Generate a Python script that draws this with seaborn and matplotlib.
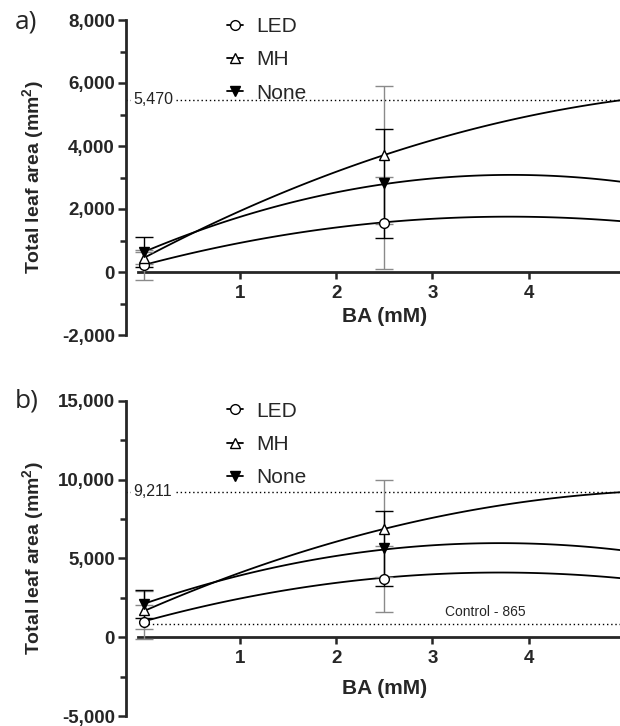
import numpy as np
import matplotlib.pyplot as plt
import seaborn as sns
from matplotlib.lines import Line2D
from matplotlib.ticker import FuncFormatter, MultipleLocator

sns.set_style("ticks")
plt.rcParams["font.family"] = ["Liberation Sans", "DejaVu Sans"]
plt.rcParams["mathtext.fontset"] = "custom"
plt.rcParams["mathtext.bf"] = "Liberation Sans:bold"
plt.rcParams["mathtext.rm"] = "Liberation Sans"

treatments = ["LED", "MH", "None"]
ba_points = [0, 2.5]
fit_x = [0, 2.5, 5]

# --------------------------------------------------
# panel a) values
# --------------------------------------------------
a_led_mean = [225, 1556]
a_led_err = [480, 1460]
a_mh_mean = [450, 3714]
a_mh_err = [200, 2191]
a_none_mean = [640, 2825]
a_none_err = [480, 1730]
# curve heights of the fitted lines at 0, 2.5 and 5 mM
a_led_fit = [222, 1577, 1603]
a_mh_fit = [444, 3714, 5470]
a_none_fit = [635, 2790, 2850]
a_max_value = 5470

# --------------------------------------------------
# panel b) values
# --------------------------------------------------
b_led_mean = [950, 3700]
b_led_err = [1080, 2075]
b_mh_mean = [1730, 6870]
b_mh_err = [1200, 3080]
b_none_mean = [2113, 5647]
b_none_err = [900, 2380]
b_led_fit = [1000, 3774, 3717]
b_mh_fit = [1650, 6870, 9211]
b_none_fit = [2113, 5560, 5490]
b_max_value = 9211
b_control_value = 865

markers = {"LED": "o", "MH": "^", "None": "v"}
faces = {"LED": "white", "MH": "white", "None": "black"}
err_colors = {"LED": "#8a8a8a", "MH": "#8a8a8a", "None": "black"}


def comma_fmt(v, pos):
    return f"{v:,.0f}"


def draw_panel(ax, means, errs, fits, ylim, major, minor, max_value, xlabel_y, legend_y):
    for name in treatments:
        sns.regplot(
            x=fit_x, y=fits[name], order=2, ci=None, scatter=False, truncate=True,
            color="black", line_kws={"lw": 1.3, "zorder": 2}, ax=ax,
        )
        ax.errorbar(
            ba_points, means[name], yerr=errs[name], fmt="none",
            ecolor=err_colors[name], elinewidth=1, capsize=6.5, capthick=1, zorder=3,
        )
        ax.plot(
            ba_points, means[name], linestyle="none", marker=markers[name], ms=7,
            mfc=faces[name], mec="black", mew=1, zorder=4,
        )

    ax.axhline(max_value, color="black", lw=1, linestyle=(0, (1, 2)), zorder=1)
    ax.text(-0.11, max_value, f"{max_value:,}", ha="left", va="center", fontsize=11.5,
            color="#222222",
            bbox=dict(facecolor="white", edgecolor="none", pad=1.5), zorder=1.5)

    ax.set_xlim(-0.184, 4.95)
    ax.set_ylim(*ylim)
    ax.spines["top"].set_visible(False)
    ax.spines["right"].set_visible(False)
    ax.spines["bottom"].set_position(("data", 0))
    ax.spines["bottom"].set_bounds(-0.06, 4.95)
    ax.spines["left"].set_linewidth(2)
    ax.spines["bottom"].set_linewidth(2)

    ax.yaxis.set_major_locator(MultipleLocator(major))
    ax.yaxis.set_minor_locator(MultipleLocator(minor))
    ax.yaxis.set_major_formatter(FuncFormatter(comma_fmt))
    ax.set_xticks([1, 2, 3, 4])
    ax.tick_params(axis="y", which="major", length=6, width=1.8, pad=2, labelsize=13.5)
    ax.tick_params(axis="y", which="minor", length=4, width=1.8)
    ax.tick_params(axis="x", which="major", length=5, width=1.8, pad=4, labelsize=13.5)
    for lab in ax.get_xticklabels() + ax.get_yticklabels():
        lab.set_fontweight("bold")

    ax.set_xlabel("BA (mM)", fontsize=15, fontweight="bold")
    ax.xaxis.label.set_va("center")
    ax.xaxis.set_label_coords((384.7 - 126) / 494, xlabel_y)
    ax.set_ylabel(r"Total leaf area (mm$^\mathbf{2}$)", fontsize=14, fontweight="bold")
    ax.yaxis.set_label_coords(-0.16, 0.5)

    handles = [
        Line2D([], [], color="black", lw=1.3, marker=markers[n], ms=7,
               mfc=faces[n], mec="black", mew=1)
        for n in treatments
    ]
    ax.legend(handles, treatments, loc="upper left", bbox_to_anchor=(0.205, legend_y),
              frameon=False, fontsize=15, handlelength=0.75, handletextpad=0.65,
              labelspacing=0.69, borderaxespad=0, borderpad=0)


fig = plt.figure(figsize=(6.2, 7.26), dpi=100)
ax_a = fig.add_axes([126 / 620, 1 - 335 / 726, 494 / 620, 315 / 726])
ax_b = fig.add_axes([126 / 620, 1 - 716 / 726, 494 / 620, 315.3 / 726])

draw_panel(
    ax_a,
    {"LED": a_led_mean, "MH": a_mh_mean, "None": a_none_mean},
    {"LED": a_led_err, "MH": a_mh_err, "None": a_none_err},
    {"LED": a_led_fit, "MH": a_mh_fit, "None": a_none_fit},
    (-2000, 8000), 2000, 1000, a_max_value, 0.06, 1.01,
)
draw_panel(
    ax_b,
    {"LED": b_led_mean, "MH": b_mh_mean, "None": b_none_mean},
    {"LED": b_led_err, "MH": b_mh_err, "None": b_none_err},
    {"LED": b_led_fit, "MH": b_mh_fit, "None": b_none_fit},
    (-5000, 15000), 5000, 2500, b_max_value, 0.086, 0.997,
)

ax_b.hlines(b_control_value, 0, 4.95, color="black", lw=1, linestyle=(0, (1, 2)), zorder=1)
ax_b.text(3.55, 1620, f"Control - {b_control_value}", ha="center", va="center", fontsize=10)

fig.text(15 / 620, 1 - 22 / 726, "a)", fontsize=19, ha="left", va="center",
         family=["Open Sans", "DejaVu Sans"])
fig.text(15 / 620, 1 - 401 / 726, "b)", fontsize=19, ha="left", va="center",
         family=["Open Sans", "DejaVu Sans"])

fig.savefig("out.png", dpi=100)
